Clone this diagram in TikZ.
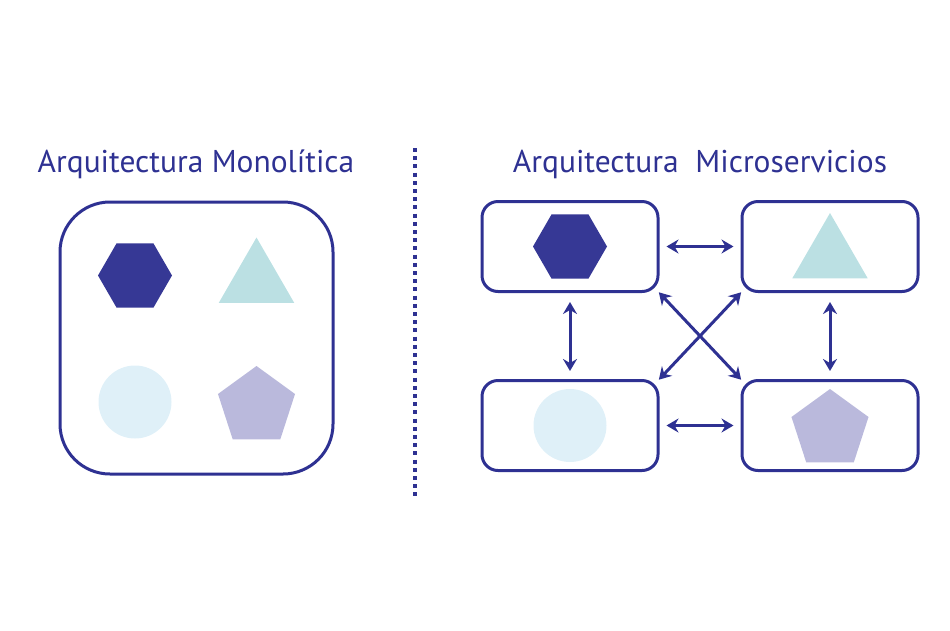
\documentclass[tikz,border=0pt]{standalone}
\usepackage{fontspec}
\setmainfont{PT Sans}
\usetikzlibrary{arrows.meta,positioning,shapes.geometric}
\definecolor{navy}{RGB}{46,49,146}
\definecolor{hexblue}{RGB}{54,56,149}
\definecolor{aqua}{RGB}{187,224,227}
\definecolor{sky}{RGB}{223,240,248}
\definecolor{lilac}{RGB}{186,185,220}

\begin{document}
\begin{tikzpicture}[
  x=1pt, y=-1pt,
  font=\fontsize{31.5}{36}\selectfont,
  title/.style={text=navy, anchor=base, inner sep=0pt},
  bigbox/.style={draw=navy, line width=3pt, rounded corners=50pt, minimum width=273pt, minimum height=272pt},
  svc/.style={draw=navy, line width=3pt, rounded corners=16pt, minimum width=176pt, minimum height=90pt},
  shp/.style={inner sep=0pt, outer sep=0pt},
  hexa/.style={shp, regular polygon, regular polygon sides=6, fill=hexblue, minimum size=74pt},
  tri/.style={shp, regular polygon, regular polygon sides=3, fill=aqua, minimum size=87pt},
  disc/.style={shp, circle, fill=sky, minimum size=73pt},
  penta/.style={shp, regular polygon, regular polygon sides=5, fill=lilac, minimum size=81pt},
  link/.style={{Stealth[length=12pt,width=14pt,inset=4pt]}-{Stealth[length=12pt,width=14pt,inset=4pt]}, line width=3pt, draw=navy, shorten <=7pt, shorten >=7pt},
  sep/.style={draw=navy, line width=4pt, dash pattern=on 4pt off 4.2pt}
]
\useasboundingbox (0,0) rectangle (950,630);

% monolith
\node[title] (tmono) at (196,172) {Arquitectura Monolítica};
\node[bigbox] (mono) at (196.5,338) {};
\node[hexa] (m1) at (135,275.5) {};
\node[tri] (m2) at (256.5,281) {};
\node[disc] (m3) at (135,402) {};
\node[penta] (m4) at (256.5,406.5) {};

% divider
\coordinate (dtop) at (415,148);
\coordinate (dbot) at (415,498);
\draw[sep] (dtop) -- (dbot);

% microservices
\node[title] (tmicro) at (700,172) {Arquitectura\ \ Microservicios};
\node[svc] (tl) at (570,246.5) {};
\node[svc] (tr) at (830,246.5) {};
\node[svc] (bl) at (570,425.5) {};
\node[svc] (br) at (830,425.5) {};
\node[hexa] (s1) at (tl) {};
\node[tri] (s2) at (830,256.5) {};
\node[disc] (s3) at (bl) {};
\node[penta] (s4) at (830,429.5) {};

\draw[link] (tl) -- (tr);
\draw[link] (bl) -- (br);
\draw[link, shorten <=9pt, shorten >=8pt] (tl) -- (bl);
\draw[link, shorten <=9pt, shorten >=8pt] (tr) -- (br);
\draw[link, shorten <=-1pt, shorten >=-1pt] (tl.south east) -- (br.north west);
\draw[link, shorten <=-1pt, shorten >=-1pt] (tr.south west) -- (bl.north east);
\end{tikzpicture}
\end{document}
